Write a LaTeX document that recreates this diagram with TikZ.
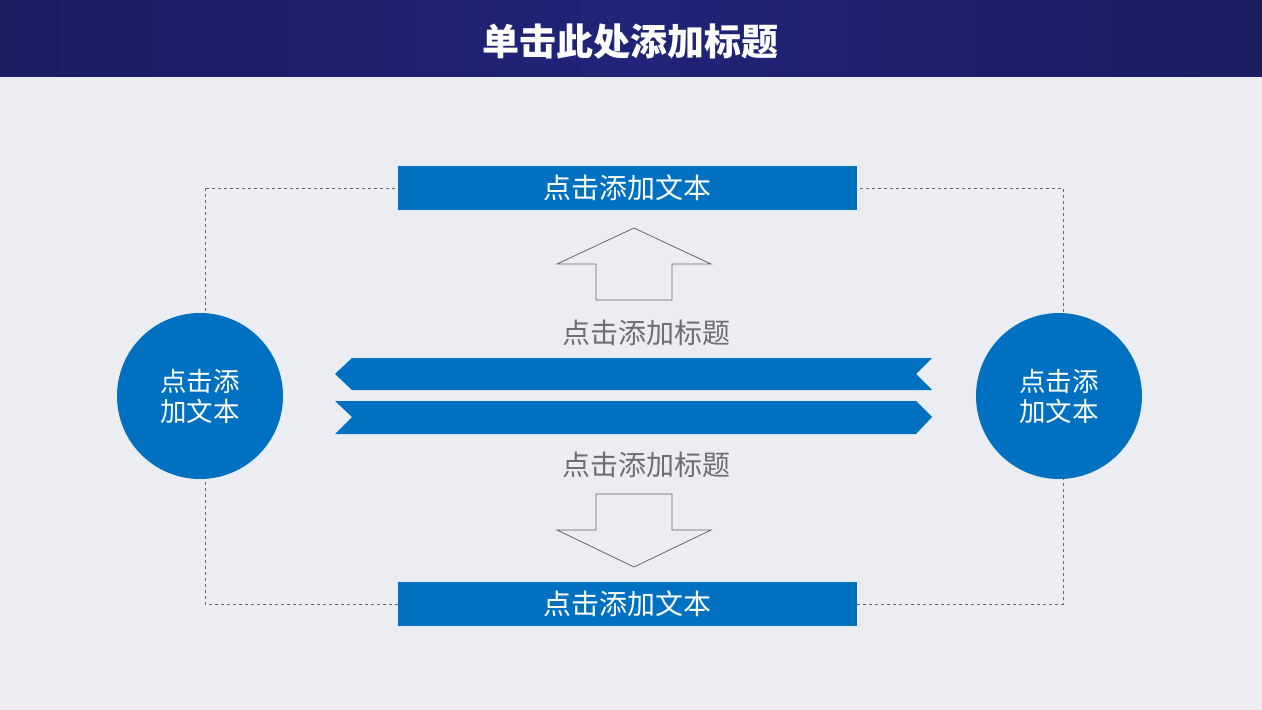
\documentclass[tikz,border=0pt]{standalone}
\usepackage{fontspec}
\setmainfont{Noto Sans CJK SC}
\definecolor{hdr}{RGB}{32,36,120}
\definecolor{bgc}{RGB}{236,237,243}
\definecolor{blu}{RGB}{0,112,192}
\definecolor{gtxt}{RGB}{110,110,110}
\begin{document}
\begin{tikzpicture}[x=1pt,y=-1pt,
  bluebox/.style={fill=blu,draw=none,text=white,font=\fontsize{28}{32}\selectfont},
  bigarrow/.style={draw=gray!80!black,fill=bgc,line width=0.8pt},
  ttl/.style={text=gtxt,font=\fontsize{28}{32}\selectfont},
  circ/.style={circle,fill=blu,text=white,minimum size=166pt,inner sep=0pt,align=center,font=\fontsize{26.5}{30}\selectfont}]
\useasboundingbox (0,0) rectangle (1262,710);
\fill[bgc] (0,0) rectangle (1262,710);
\shade[left color=hdr!80!black,right color=hdr!80!black,middle color=hdr] (0,0) rectangle (1262,76);
\node[text=white,font=\fontsize{37}{40}\selectfont\bfseries] (title) at (630,42) {单击此处添加标题};
\draw[dashed,gray!80!black,line width=0.6pt] (205,188) rectangle (1063,604);
\node[bluebox,minimum width=459pt,minimum height=44pt,inner sep=0pt] (top) at (627.5,188) {点击添加文本};
\node[bluebox,minimum width=459pt,minimum height=44pt,inner sep=0pt] (bot) at (627.5,604) {点击添加文本};
\draw[bigarrow] (634,228) -- (711,264) -- (672,264) -- (672,300) -- (596,300) -- (596,264) -- (557,264) -- cycle;
\draw[bigarrow] (634,567) -- (711,530) -- (672,530) -- (672,494) -- (596,494) -- (596,530) -- (557,530) -- cycle;
\node[ttl] (t1) at (646,333) {点击添加标题};
\node[ttl] (t2) at (646,465) {点击添加标题};
\fill[blu] (352,358) -- (932,358) -- (916,374) -- (932,390) -- (352,390) -- (335,374) -- cycle;
\fill[blu] (335,401) -- (916,401) -- (932,417) -- (916,434) -- (335,434) -- (352,417) -- cycle;
\node[circ] (cl) at (200,396) {点击添\\加文本};
\node[circ] (cr) at (1059,396) {点击添\\加文本};
\end{tikzpicture}
\end{document}
